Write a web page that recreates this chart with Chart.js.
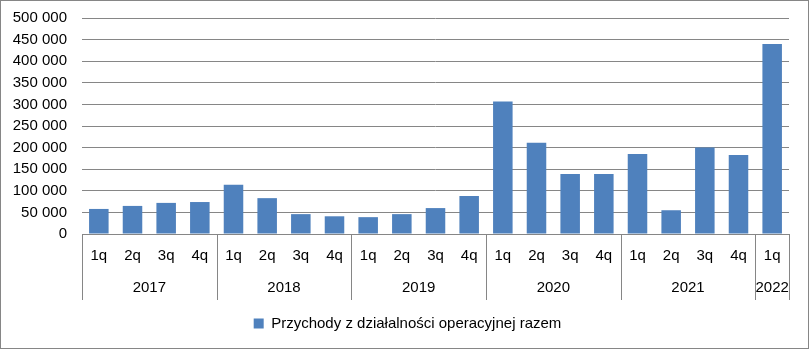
<!DOCTYPE html>
<html>
<head>
<meta charset="utf-8">
<title>Przychody z działalności operacyjnej razem</title>
<script src="https://cdn.jsdelivr.net/npm/chart.js@4/dist/chart.umd.min.js"></script>
<style>
    html, body { margin: 0; padding: 0; background: #FFFFFF; }
    #wrap { width: 809px; height: 349px; }
</style>
</head>
<body>
<div id="wrap"><canvas id="revenueChart" width="809" height="349"></canvas></div>
<script>

/* ==========================================
   DATA
========================================== */

const quarters = [
    "1q","2q","3q","4q",
    "1q","2q","3q","4q",
    "1q","2q","3q","4q",
    "1q","2q","3q","4q",
    "1q","2q","3q","4q",
    "1q"
];

const years = ["2017","2018","2019","2020","2021","2022"];

const yearSpans = [4, 4, 4, 4, 4, 1];

const revenue = [
    58000, 65000, 72000, 74000,
    114000, 83000, 46000, 41000,
    39000, 46000, 60000, 88000,
    307000, 211000, 139000, 139000,
    185000, 55000, 200000, 183000,
    440000
];

const seriesName = "Przychody z działalności operacyjnej razem";

const FONT = "'Liberation Sans', Arial, sans-serif";
const LINE = "#868686";

/* ==========================================
   HELPERS
========================================== */

function spaced(v) {
    return String(v).replace(/\B(?=(\d{3})+(?!\d))/g, " ");
}

// second row of the category axis: years with separators
const yearAxis = {

    id: "yearAxis",

    afterDraw(chart) {

        const x = chart.scales.x;
        const ctx = chart.ctx;
        const top = chart.chartArea.bottom;
        const half = (x.getPixelForValue(1) - x.getPixelForValue(0)) / 2;

        ctx.save();
        ctx.strokeStyle = LINE;
        ctx.lineWidth = 1;
        ctx.fillStyle = "#000000";
        ctx.font = "15px " + FONT;
        ctx.textAlign = "center";
        ctx.textBaseline = "middle";

        const sep = (px) => {
            const p = Math.round(px) + 0.5;
            ctx.beginPath();
            ctx.moveTo(p, top);
            ctx.lineTo(p, top + 66);
            ctx.stroke();
        };

        let start = 0;
        let right = 0;

        yearSpans.forEach((span, i) => {
            const left = x.getPixelForValue(start) - half;
            right = x.getPixelForValue(start + span - 1) + half;
            sep(left);
            ctx.fillText(years[i], (left + right) / 2, top + 54);
            start += span;
        });

        sep(right);
        ctx.restore();
    }
};

// nudge the legend so it sits centred on the whole frame
const legendShift = {

    id: "legendShift",

    afterLayout(chart) {
        const lg = chart.legend;
        if (!lg) return;
        lg.left += 13;
        lg.right += 13;
    }
};

// frame around the whole chart
const frame = {

    id: "frame",

    afterDraw(chart) {
        const ctx = chart.ctx;
        ctx.save();
        ctx.strokeStyle = LINE;
        ctx.lineWidth = 1;
        ctx.strokeRect(0.5, 0.5, chart.width - 1, chart.height - 1);
        ctx.restore();
    }
};

/* ==========================================
   CHART
========================================== */

Chart.defaults.font.family = FONT;
Chart.defaults.font.size = 15;
Chart.defaults.color = "#000000";

new Chart(document.getElementById("revenueChart"), {

    type: "bar",

    data: {

        labels: quarters,

        datasets: [{

            label: seriesName,

            data: revenue,

            backgroundColor: "#4F81BD",

            categoryPercentage: 1,

            barPercentage: 0.58

        }]

    },

    plugins: [yearAxis, legendShift, frame],

    options: {

        responsive: false,

        animation: false,

        layout: {
            padding: { left: 0, right: 20, top: 18, bottom: 8 }
        },

        plugins: {

            tooltip: { enabled: false },

            legend: {
                position: "bottom",
                labels: {
                    boxWidth: 10,
                    boxHeight: 10,
                    padding: 15,
                    color: "#000000",
                    font: { size: 15 }
                }
            }

        },

        scales: {

            x: {
                grid: { display: false, drawTicks: false },
                border: { display: true, color: LINE },
                ticks: { padding: 13, maxRotation: 0, autoSkip: false },
                afterFit(scale) { scale.height = 67; }
            },

            y: {
                min: 0,
                max: 500000,
                grid: { color: LINE, drawTicks: false },
                border: { display: false },
                ticks: {
                    stepSize: 50000,
                    padding: 15,
                    callback: (v) => spaced(v)
                },
                afterFit(scale) {
                    scale.width = 82;
                    scale.paddingTop = 0;
                    scale.paddingBottom = 0;
                }
            }

        }

    }

});

</script>
</body>
</html>
